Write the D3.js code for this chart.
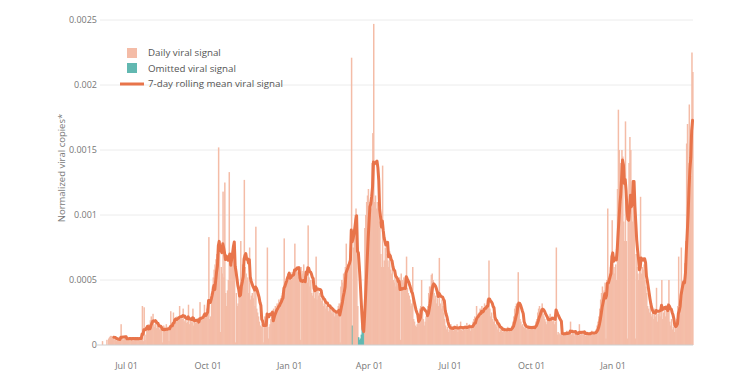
<!DOCTYPE html>
<html>
<head>
<meta charset="utf-8">
<script src="https://cdn.jsdelivr.net/npm/d3@7"></script>
<style>
  body { margin: 0; background: #fff; }
  text { font-family: "Open Sans", sans-serif; }
</style>
</head>
<body>
<svg id="chart"></svg>
<script>
const WIDTH = 740;
const HEIGHT = 386;

// daily viral signal, in units of 1e-5 normalized copies, one array per month
// (null = no sample that day)
const UNIT = 1e-5;
const jun2020 = [null,null,3,null,null,null,null,4,null,5,6,7,7,6,5,6,4,5,3,4,5,4,5,16,4,5,4,5,6,4];
const jul2020 = [5,4,6,5,5,4,6,5,4,5,6,4,5,5,6,4,5,30,3,29,4,8,12,14,16,15,19,22,18,24,16];
const aug2020 = [14,18,13,15,16,12,14,13,12,2,15,14,13,16,12,14,3,15,26,17,16,25,18,19,20,22,21,19,30,20,21];
const sep2020 = [20,28,18,19,21,17,18,31,16,19,18,17,28,15,18,17,19,20,18,16,33,19,21,20,22,31,22,24,28,30];
const oct2020 = [83,20,22,40,45,52,58,62,66,70,74,152,76,10,60,55,118,52,125,40,30,42,50,133,70,65,70,62,80,75,2];
const nov2020 = [40,30,32,40,45,80,50,62,58,127,60,55,50,52,40,75,35,38,40,36,42,30,91,28,25,22,18,15,14,16];
const dec2020 = [18,2,22,18,16,75,5,14,16,20,22,25,28,24,30,28,32,30,35,33,36,38,40,42,82,44,48,50,55,52,56];
const jan2021 = [54,50,56,52,58,78,55,60,56,52,58,4,60,57,55,62,53,50,56,48,92,52,45,50,40,38,42,36,40,68,35];
const feb2021 = [42,38,40,36,34,38,30,32,35,28,30,33,26,28,30,25,27,24,28,22,26,25,24,30,32,2,45,50];
const mar2021 = [48,55,52,60,78,58,62,64,66,70,221,15,75,85,100,105,95,30,6,4,5,8,15,18,16,90,100,110,115,120,110];
const apr2021 = [100,105,140,163,247,110,115,105,110,105,95,90,70,60,138,60,65,75,70,80,65,60,72,58,55,62,50,48,55,45];
const may2021 = [50,48,45,52,4,55,50,48,52,45,50,68,44,40,38,35,30,32,60,20,18,15,14,16,20,24,28,30,50,28,20];
const jun2021 = [15,18,22,25,30,40,45,45,54,55,50,40,35,38,32,36,30,67,32,28,35,30,25,20,15,12,14,10,12,14];
const jul2021 = [16,12,14,11,15,13,12,16,10,14,13,18,12,11,14,12,15,13,17,12,14,16,11,15,14,18,20,22,18,30,24];
const aug2021 = [20,25,28,24,30,26,28,32,30,28,35,30,65,28,22,25,20,18,22,16,14,18,12,15,10,12,14,10,11,13,12];
const sep2021 = [10,12,14,11,13,10,12,15,18,22,28,30,32,28,56,30,20,18,15,16,14,13,15,12,14,13,15,12,14,13];
const oct2021 = [14,12,15,13,18,20,25,28,30,26,28,32,24,22,20,18,16,20,18,22,24,20,22,18,20,16,18,75,8,10,8];
const nov2021 = [9,8,10,9,8,7,10,9,11,8,10,9,18,8,10,9,7,11,10,8,9,7,16,8,9,11,8,10,9,7];
const dec2021 = [8,10,9,8,10,9,11,8,9,10,8,12,15,18,22,28,35,40,45,38,42,48,5,50,105,45,55,60,65,96,70];
const jan2022 = [60,55,62,50,120,181,150,140,110,150,145,95,80,172,80,5,100,140,160,150,110,95,125,100,5,70,60,55,50,65,114];
const feb2022 = [55,60,58,62,50,45,40,30,28,25,30,22,24,26,20,28,22,44,18,24,26,22,30,50,20,25,28,22];
const mar2022 = [30,28,32,50,18,15,20,12,14,10,16,12,20,30,68,28,35,75,40,45,50,63,80,155,170,140,185,150,130,225,210];

const months = [jun2020, jul2020, aug2020, sep2020, oct2020, nov2020, dec2020,
  jan2021, feb2021, mar2021, apr2021, may2021, jun2021, jul2021, aug2021, sep2021,
  oct2021, nov2021, dec2021, jan2022, feb2022, mar2022];

// days whose samples were omitted (drawn in teal)
const omittedDates = ["2021-03-12", "2021-03-19", "2021-03-20", "2021-03-21",
  "2021-03-22", "2021-03-23", "2021-03-24", "2021-03-25"];

const yTicks = [0, 0.0005, 0.001, 0.0015, 0.002, 0.0025];
const yTickLabels = ["0", "0.0005", "0.001", "0.0015", "0.002", "0.0025"];
const legendLabels = ["Daily viral signal", "Omitted viral signal", "7-day rolling mean viral signal"];

const COLOR_DAILY = "#f4bca7";
const COLOR_OMITTED = "#62b8b1";
const COLOR_MEAN = "#e8744a";
const DAY = 86400000;

const fmtDay = d3.utcFormat("%Y-%m-%d");
const omittedSet = new Set(omittedDates);

const values = months.flat();
const days = values.map((v, i) => {
  const date = new Date(Date.UTC(2020, 5, 1) + i * DAY);
  return {
    date,
    value: v == null ? null : v * UNIT,
    omitted: omittedSet.has(fmtDay(date)),
  };
});

// trailing 7-day mean, only where the whole window has samples
days.forEach((d, i) => {
  if (i < 6) { d.mean = null; return; }
  const win = days.slice(i - 6, i + 1);
  d.mean = win.every((w) => w.value != null) ? d3.mean(win, (w) => w.value) : null;
});

const x = d3.scaleUtc()
  .domain([new Date(Date.UTC(2020, 5, 1)), new Date(Date.UTC(2022, 3, 1))])
  .range([100, 693]);
const y = d3.scaleLinear().domain([0, 0.0025]).range([345, 20]);

const svg = d3.select("#chart").attr("width", WIDTH).attr("height", HEIGHT);

// gridlines
svg.append("g")
  .selectAll("line")
  .data(yTicks.slice(1))
  .join("line")
  .attr("x1", x.range()[0])
  .attr("x2", x.range()[1])
  .attr("y1", (d) => y(d))
  .attr("y2", (d) => y(d))
  .attr("stroke", "#ececec")
  .attr("stroke-width", 1);

// y tick labels
svg.append("g")
  .selectAll("text")
  .data(yTicks)
  .join("text")
  .attr("x", 97)
  .attr("y", (d) => y(d))
  .attr("dy", "0.35em")
  .attr("text-anchor", "end")
  .attr("font-size", 9)
  .attr("fill", "#777")
  .text((d, i) => yTickLabels[i]);

// x tick labels (quarterly, inside the range)
svg.append("g")
  .selectAll("text")
  .data(x.ticks(d3.utcMonth.every(3)).filter((d) => d < x.domain()[1]))
  .join("text")
  .attr("x", (d) => x(d))
  .attr("y", 369)
  .attr("text-anchor", "middle")
  .attr("font-size", 9)
  .attr("fill", "#777")
  .text(d3.utcFormat("%b %d"));

// y title
svg.append("text")
  .attr("transform", "translate(65,168) rotate(-90)")
  .attr("text-anchor", "middle")
  .attr("font-size", 9.5)
  .attr("fill", "#777")
  .text("Normalized viral copies*");

// bars
svg.append("g")
  .selectAll("rect")
  .data(days.filter((d) => d.value != null))
  .join("rect")
  .attr("x", (d) => x(d.date))
  .attr("width", (d) => x(new Date(+d.date + DAY)) - x(d.date) + 0.6)
  .attr("y", (d) => y(d.value))
  .attr("height", (d) => y(0) - y(d.value))
  .attr("fill", (d) => (d.omitted ? COLOR_OMITTED : COLOR_DAILY));

// zero line
svg.append("line")
  .attr("x1", x.range()[0] - 4)
  .attr("x2", x.range()[1])
  .attr("y1", y(0))
  .attr("y2", y(0))
  .attr("stroke", "#cfcfcf")
  .attr("stroke-width", 1);

// rolling mean line
const line = d3.line()
  .defined((d) => d.mean != null)
  .x((d) => x(new Date(+d.date + DAY / 2)))
  .y((d) => y(d.mean));

svg.append("path")
  .datum(days)
  .attr("d", line)
  .attr("fill", "none")
  .attr("stroke", COLOR_MEAN)
  .attr("stroke-width", 3)
  .attr("stroke-linejoin", "round")
  .attr("stroke-linecap", "round");

// legend
const legend = svg.append("g").attr("font-size", 9.75).attr("fill", "#555");
legend.append("rect").attr("x", 127).attr("y", 48).attr("width", 10).attr("height", 10).attr("fill", COLOR_DAILY);
legend.append("rect").attr("x", 127).attr("y", 63).attr("width", 10).attr("height", 10).attr("fill", COLOR_OMITTED);
legend.append("line").attr("x1", 120).attr("x2", 144).attr("y1", 84).attr("y2", 84)
  .attr("stroke", COLOR_MEAN).attr("stroke-width", 3);
legend.selectAll("text")
  .data(legendLabels)
  .join("text")
  .attr("x", 148)
  .attr("y", (d, i) => [53, 68.5, 84][i])
  .attr("dy", "0.35em")
  .text((d) => d);
</script>
</body>
</html>
